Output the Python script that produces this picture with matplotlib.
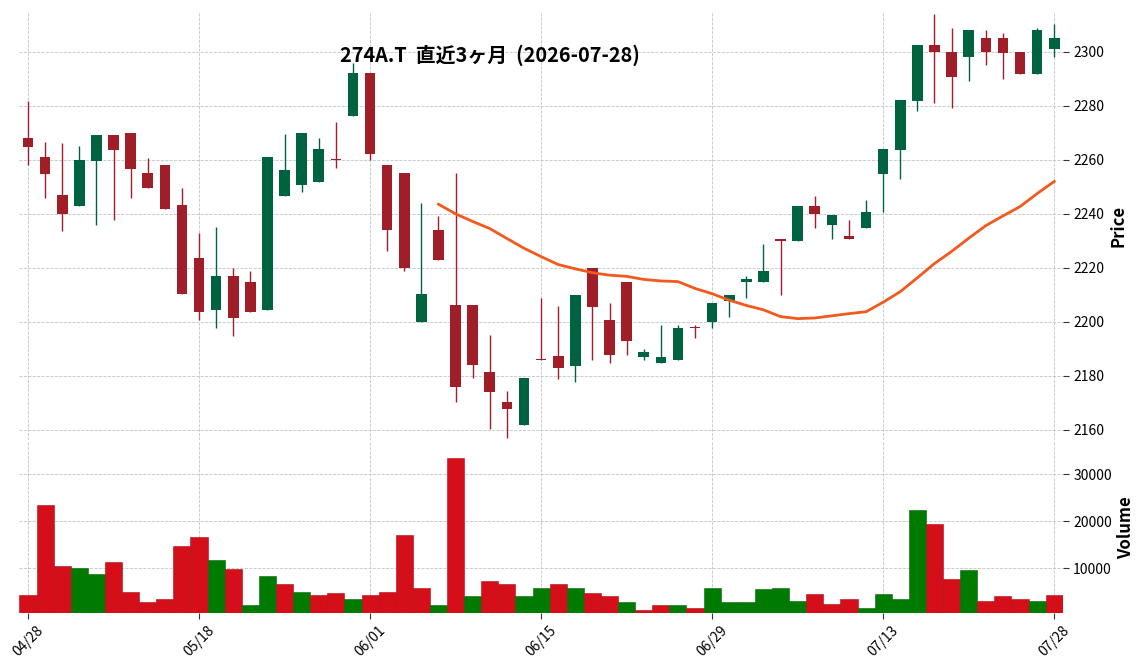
import pandas as pd
import matplotlib
matplotlib.use("Agg")
import matplotlib.pyplot as plt

plt.rcParams['font.family'] = ['Noto Sans CJK JP', 'DejaVu Sans']

title = "274A.T  直近3ヶ月  (2026-07-28)"

opens = [2268.1, 2261.0, 2246.9, 2242.8, 2259.7, 2269.2, 2270.0, 2255.1, 2258.0, 2243.2,
         2223.8, 2204.4, 2217.1, 2214.9, 2204.4, 2246.6, 2250.9, 2252.0, 2260.1, 2276.1,
         2292.3, 2258.2, 2255.3, 2200.1, 2234.1, 2206.3, 2206.3, 2181.5, 2170.3, 2161.9,
         2186.2, 2187.3, 2183.8, 2220.1, 2200.7, 2214.9, 2186.9, 2184.7, 2185.8, 2197.9,
         2199.9, 2207.7, 2214.7, 2214.7, 2230.9, 2229.9, 2243.1, 2235.8, 2231.9, 2234.7,
         2254.8, 2263.7, 2282.0, 2302.4, 2300.1, 2298.0, 2305.3, 2305.3, 2300.1, 2292.0,
         2301.0]
highs = [2282.0, 2266.8, 2266.1, 2265.0, 2269.2, 2269.2, 2270.0, 2260.9, 2258.0, 2249.7,
         2233.0, 2235.0, 2220.0, 2219.0, 2261.0, 2269.8, 2270.1, 2268.0, 2274.0, 2295.9,
         2292.3, 2258.2, 2255.3, 2244.0, 2239.2, 2255.1, 2206.3, 2195.1, 2174.3, 2179.2,
         2209.0, 2206.0, 2210.1, 2220.1, 2207.2, 2214.9, 2190.1, 2198.9, 2198.9, 2198.9,
         2207.2, 2210.1, 2217.0, 2228.9, 2230.9, 2243.1, 2246.7, 2239.8, 2237.8, 2245.0,
         2264.0, 2282.2, 2302.4, 2314.2, 2308.9, 2308.2, 2308.2, 2307.1, 2300.1, 2308.9,
         2310.2]
lows = [2258.0, 2246.0, 2233.7, 2242.8, 2236.0, 2237.8, 2246.0, 2249.6, 2241.8, 2210.5,
        2200.6, 2197.6, 2194.8, 2203.8, 2204.4, 2246.6, 2248.1, 2252.0, 2257.2, 2276.1,
        2260.1, 2226.2, 2219.0, 2200.1, 2223.0, 2170.2, 2179.1, 2160.3, 2157.2, 2161.9,
        2186.0, 2179.0, 2177.7, 2185.9, 2184.7, 2187.8, 2185.9, 2184.7, 2185.8, 2194.1,
        2197.8, 2201.7, 2208.9, 2214.7, 2210.0, 2229.9, 2234.8, 2230.7, 2230.6, 2234.7,
        2240.7, 2253.0, 2278.1, 2281.0, 2279.1, 2289.2, 2295.3, 2289.9, 2292.0, 2292.0,
        2298.1]
closes = [2264.9, 2254.8, 2239.9, 2259.9, 2269.2, 2263.6, 2256.6, 2249.6, 2241.8, 2210.5,
          2203.8, 2217.1, 2201.6, 2203.8, 2261.0, 2256.3, 2270.1, 2264.2, 2259.9, 2292.3,
          2262.1, 2233.9, 2220.0, 2210.4, 2223.0, 2176.0, 2184.1, 2174.2, 2167.9, 2179.2,
          2186.0, 2183.0, 2210.1, 2205.7, 2187.7, 2192.8, 2189.0, 2187.2, 2197.9, 2197.7,
          2207.2, 2210.1, 2216.0, 2219.0, 2229.9, 2243.1, 2240.0, 2239.8, 2230.6, 2240.9,
          2264.0, 2282.2, 2302.4, 2299.9, 2290.9, 2308.2, 2299.9, 2299.7, 2292.0, 2308.2,
          2305.3]
volumes = [4200, 23500, 10500, 10100, 8800, 11300, 5000, 2700, 3500, 14700,
           16600, 11750, 9850, 2100, 8200, 6500, 5000, 4200, 4600, 3500,
           4200, 5000, 17000, 5850, 2100, 33400, 3950, 7300, 6500, 3950,
           5650, 6700, 5650, 4600, 3950, 2700, 1000, 2100, 2100, 1450,
           5850, 2700, 2700, 5450, 5650, 2900, 4400, 2300, 3500, 1450,
           4400, 3350, 22300, 19300, 7750, 9650, 2900, 3950, 3500, 2900,
           4200]

# trading days (JP holidays skipped)
holidays = ["2026-04-29", "2026-05-04", "2026-05-05", "2026-05-06", "2026-07-20"]
dates = [d for d in pd.bdate_range("2026-04-28", "2026-07-28") if d.strftime("%Y-%m-%d") not in holidays]

df = pd.DataFrame({"Open": opens, "High": highs, "Low": lows, "Close": closes,
                   "Volume": volumes}, index=pd.DatetimeIndex(dates))
df["MA25"] = df["Close"].rolling(25).mean()

up_c, down_c = "#006340", "#a01e28"
vol_up, vol_down = "#007a00", "#d40f19"

fig = plt.figure(figsize=(11.44, 6.70), dpi=100)
ax = fig.add_axes([0.017, 0.3433, 0.912, 0.6388])
axv = fig.add_axes([0.017, 0.0855, 0.912, 0.2543], sharex=ax)

x = list(range(len(df)))
for i, (o, h, l, c) in enumerate(zip(opens, highs, lows, closes)):
    col = up_c if c >= o else down_c
    ax.vlines(i, l, h, color=col, linewidth=1.0, zorder=3)
    body = max(abs(c - o), 0.45)
    ax.bar(i, body, bottom=min(o, c), width=0.62, color=col, linewidth=0, zorder=4)

ax.plot(x, df["MA25"], color="#f25a1d", linewidth=2.0, zorder=5)

vcols = [vol_down] + [vol_up if closes[i] > closes[i - 1] else vol_down for i in range(1, len(closes))]
vedge = ["#00660a" if c == vol_up else "#b00a14" for c in vcols]
axv.bar(x, volumes, width=1.0, color=vcols, edgecolor=vedge, linewidth=0.4, zorder=3)

ax.set_xlim(-0.5, len(df) - 0.5)
ax.set_ylim(2156.3, 2314.8)
axv.set_ylim(490, 36740)

for a in (ax, axv):
    for s in a.spines.values():
        s.set_visible(False)
    a.grid(True, linestyle="--", color="#c4c4c4", linewidth=0.6)
    a.set_axisbelow(True)
    a.yaxis.tick_right()
    a.yaxis.set_label_position("right")
    a.tick_params(axis="both", labelsize=10, length=4, width=0.8, color="#333333")

ax.set_yticks([2160, 2180, 2200, 2220, 2240, 2260, 2280, 2300])
axv.set_yticks([10000, 20000, 30000])
ax.set_ylabel("Price", fontsize=12, fontweight="bold")
axv.set_ylabel("Volume", fontsize=12, fontweight="bold")

ticks = list(range(0, len(df), 10))
axv.set_xticks(ticks)
axv.set_xticklabels([df.index[t].strftime("%m/%d") for t in ticks], rotation=45, ha="center")
ax.tick_params(axis="x", labelbottom=False, length=0)

fig.text(0.428, 0.918, title, ha="center", va="center", fontsize=14.3, fontweight="bold")

plt.savefig("out.png", dpi=100)
plt.close()
